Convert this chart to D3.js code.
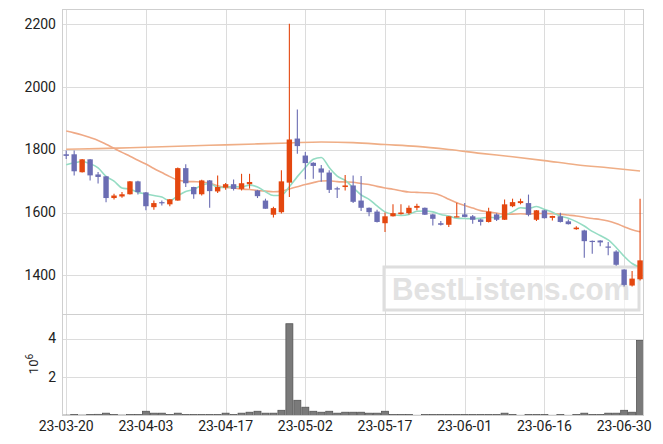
<!DOCTYPE html>
<html><head><meta charset="utf-8">
<script src="https://cdn.jsdelivr.net/npm/d3@7"></script>
<style>body{margin:0;background:#fff}svg{display:block;font-family:Roboto,"Noto Sans",sans-serif}</style>
</head><body><svg id="c" width="663" height="444"></svg>
<script>
// ---- data ----
const openP  = [1785,1785,1728,1769,1721,1715,1646,1651,1658,1699,1664,1617,1633,1626,1638,1741,1681,1658,1702,1667,1679,1690,1675,1690,1670,1638,1593,1601,1695,1835,1781,1758,1740,1727,1677,1681,1686,1638,1615,1603,1566,1588,1595,1598,1615,1615,1594,1566,1561,1586,1594,1588,1578,1570,1594,1577,1620,1630,1630,1577,1607,1583,1588,1572,1547,1543,1510,1511,1492,1476,1419,1368,1388];
const highP  = [1797,1797,1770,1770,1729,1716,1660,1665,1700,1701,1665,1638,1638,1643,1743,1753,1682,1704,1703,1718,1694,1705,1723,1723,1672,1644,1618,1734,2200,1927,1792,1760,1751,1734,1682,1719,1718,1716,1616,1609,1600,1626,1626,1622,1628,1616,1596,1573,1589,1631,1630,1592,1580,1615,1598,1641,1644,1644,1657,1608,1609,1590,1599,1578,1556,1545,1511,1512,1506,1480,1420,1414,1644];
const lowP   = [1770,1718,1727,1702,1692,1633,1641,1647,1657,1657,1607,1609,1622,1620,1637,1681,1644,1654,1615,1662,1672,1670,1670,1676,1646,1612,1584,1597,1649,1787,1706,1707,1698,1662,1646,1670,1630,1605,1588,1568,1538,1587,1594,1594,1607,1592,1559,1559,1554,1585,1585,1564,1559,1568,1573,1576,1617,1626,1588,1573,1581,1575,1568,1562,1545,1456,1469,1493,1464,1431,1365,1365,1384];
const closeP = [1780,1731,1769,1718,1713,1646,1654,1658,1699,1665,1620,1630,1630,1642,1741,1693,1658,1702,1668,1681,1690,1675,1693,1697,1652,1612,1614,1699,1832,1811,1757,1748,1727,1672,1675,1686,1634,1615,1601,1570,1588,1598,1600,1615,1621,1593,1580,1561,1588,1588,1586,1577,1570,1603,1577,1626,1633,1636,1593,1607,1582,1589,1570,1563,1552,1509,1507,1505,1490,1434,1370,1390,1448];
// volume in millions
const volume = [0.02,0.05,0.02,0.05,0.06,0.12,0.05,0.02,0.05,0.05,0.22,0.12,0.12,0.05,0.12,0.05,0.05,0.05,0.05,0.05,0.12,0.05,0.12,0.17,0.22,0.12,0.12,0.27,4.77,0.79,0.43,0.22,0.17,0.22,0.12,0.17,0.17,0.17,0.12,0.12,0.22,0.05,0.05,0.05,0.01,0.05,0.05,0.05,0.05,0.05,0.05,0.05,0.05,0.05,0.05,0.12,0.05,0.01,0.05,0.05,0.05,0.01,0.05,0.01,0.05,0.12,0.05,0.05,0.12,0.12,0.27,0.17,3.9];
const ma5  = [1752,1758,1762,1755,1742,1715,1700,1678,1674,1664,1659,1654,1649,1637,1653,1667,1673,1687,1692,1680,1680,1683,1681,1687,1681,1666,1654,1655,1682,1714,1743,1769,1775,1743,1716,1702,1679,1656,1642,1621,1602,1594,1591,1594,1604,1605,1602,1594,1589,1582,1581,1580,1582,1585,1583,1591,1602,1615,1613,1619,1610,1601,1588,1582,1571,1557,1540,1527,1513,1489,1461,1438,1426];
const ma20 = [1859,1853,1846,1838,1829,1817,1804,1791,1779,1766,1754,1740,1727,1714,1703,1699,1698,1697,1693,1685,1680,1678,1674,1673,1670,1668,1666,1668,1675,1682,1689,1695,1700,1701,1698,1697,1696,1692,1689,1683,1678,1674,1669,1665,1664,1663,1661,1654,1642,1631,1622,1614,1606,1602,1598,1595,1595,1596,1595,1597,1597,1596,1595,1592,1589,1585,1581,1578,1573,1565,1555,1545,1539];
const maLongIdx = [0,4,8,12,16,20,24,28,32,36,40,44,48,52,56,60,64,68,72];
const maLongVal = [1801,1803,1806,1809,1812,1815,1818,1821,1824,1822,1816,1810,1800,1788,1777,1765,1752,1742,1732];
const tickIdx = [0,10,20,30,40,50,60,70];
const tickLabels = ["23-03-20","23-04-03","23-04-17","23-05-02","23-05-17","23-06-01","23-06-16","23-06-30"];
const priceTicks = [1400,1600,1800,2000,2200];
const volTicks = [2,4];

// ---- layout ----
const L=62.5, R=643.5, T=9.5, M=314.5, B=415.5;
const UP="#e4470f", DOWN="#6b6db3";
const svg = d3.select("#c");
const x = d3.scaleLinear().domain([-0.464, 72.43]).range([L,R]);
const y = d3.scaleLinear().domain([1276,2245]).range([M,T]);
const yv = d3.scaleLinear().domain([0,5.25]).range([B,M]);
const n = closeP.length;
const idx = d3.range(n);

// grid
const g = svg.append("g");
g.selectAll(".vg").data(tickIdx).join("line")
  .attr("x1",d=>Math.round(x(d))+0.5).attr("x2",d=>Math.round(x(d))+0.5)
  .attr("y1",T).attr("y2",M).attr("stroke","#dcdcdc");
g.selectAll(".vg2").data(tickIdx).join("line")
  .attr("x1",d=>Math.round(x(d))+0.5).attr("x2",d=>Math.round(x(d))+0.5)
  .attr("y1",M).attr("y2",B).attr("stroke","#dcdcdc");
g.selectAll(".hg").data(priceTicks).join("line")
  .attr("x1",L).attr("x2",R).attr("y1",d=>Math.round(y(d))+0.5).attr("y2",d=>Math.round(y(d))+0.5)
  .attr("stroke","#dcdcdc");
g.selectAll(".hv").data(volTicks).join("line")
  .attr("x1",L).attr("x2",R).attr("y1",d=>Math.round(yv(d))+0.5).attr("y2",d=>Math.round(yv(d))+0.5)
  .attr("stroke","#dcdcdc");

// watermark
const wm = svg.append("g");
wm.append("rect").attr("x",384).attr("y",267).attr("width",255).attr("height",43)
  .attr("fill","rgba(255,255,255,0.6)").attr("stroke","#dedede").attr("stroke-width",3);
wm.append("text").attr("x",511).attr("y",300).attr("text-anchor","middle")
  .attr("font-family","'Liberation Sans',Arial,sans-serif").attr("font-weight","bold")
  .attr("font-size",32).attr("fill","#e2e2e2").attr("textLength",238).attr("lengthAdjust","spacingAndGlyphs")
  .text("BestListens.com");

// moving averages
const line = d3.line().curve(d3.curveMonotoneX);
svg.append("path").attr("d",line(maLongIdx.map((d,i)=>[x(d),y(maLongVal[i])])))
  .attr("fill","none").attr("stroke","#efae86").attr("stroke-width",1.6);
svg.append("path").attr("d",line(idx.map(i=>[x(i),y(ma20[i])])))
  .attr("fill","none").attr("stroke","#efa986").attr("stroke-width",1.6);
svg.append("path").attr("d",line(idx.map(i=>[x(i),y(ma5[i])])))
  .attr("fill","none").attr("stroke","#95dcc3").attr("stroke-width",1.6);

// candles
const cw = 5.4;
const cg = svg.append("g");
cg.selectAll(".wk").data(idx).join("line")
  .attr("x1",i=>x(i)).attr("x2",i=>x(i)).attr("y1",i=>y(highP[i])).attr("y2",i=>y(lowP[i]))
  .attr("stroke",i=>closeP[i]>=openP[i]?UP:DOWN).attr("stroke-width",1.1);
cg.selectAll(".bd").data(idx).join("rect")
  .attr("x",i=>x(i)-cw/2).attr("width",cw)
  .attr("y",i=>y(Math.max(openP[i],closeP[i])))
  .attr("height",i=>Math.max(1.2,Math.abs(y(openP[i])-y(closeP[i]))))
  .attr("fill",i=>closeP[i]>=openP[i]?UP:DOWN);

// volume bars
const bw = x(1)-x(0);
svg.append("g").selectAll("rect").data(idx).join("rect")
  .attr("x",i=>x(i)-bw/2+0.5).attr("width",bw-1)
  .attr("y",i=>yv(volume[i])).attr("height",i=>B-yv(volume[i]))
  .attr("fill","#7a7a7a").attr("stroke","#555").attr("stroke-width",0.8);

// frames
svg.append("rect").attr("x",L).attr("y",T).attr("width",R-L).attr("height",M-T)
  .attr("fill","none").attr("stroke","#cfcfcf");
svg.append("rect").attr("x",L).attr("y",M).attr("width",R-L).attr("height",B-M)
  .attr("fill","none").attr("stroke","#cfcfcf");

// labels
const txt = svg.append("g").attr("fill","#222").attr("font-size",14);
txt.selectAll(".py").data(priceTicks).join("text")
  .attr("x",56).attr("y",d=>y(d)).attr("dy","0.35em").attr("text-anchor","end").text(d=>d);
txt.selectAll(".vy").data(volTicks).join("text")
  .attr("x",56).attr("y",d=>yv(d)).attr("dy","0.35em").attr("text-anchor","end").text(d=>d);
txt.selectAll(".tx").data(tickIdx).join("text")
  .attr("x",d=>x(d)).attr("y",431).attr("text-anchor","middle").text((d,i)=>tickLabels[i]);
const vl = txt.append("text").attr("transform","translate(38,364) rotate(-90)").attr("text-anchor","middle").attr("font-size",13);
vl.append("tspan").text("10");
vl.append("tspan").attr("dy",-5).attr("font-size",10).text("6");
</script></body></html>
